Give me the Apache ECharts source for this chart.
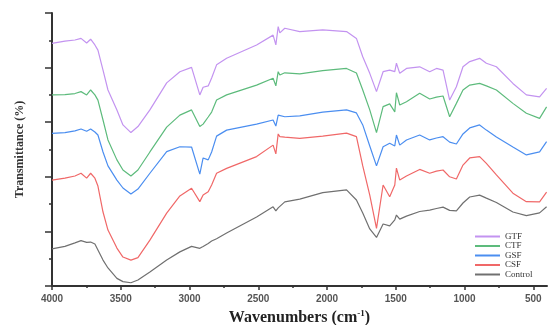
<!DOCTYPE html>
<html>
<head>
<meta charset="utf-8">
<script src="https://cdn.jsdelivr.net/npm/echarts@6/dist/echarts.min.js"></script>
<style>
  html, body { margin: 0; padding: 0; background: #fff; }
  #ftirChart { width: 548px; height: 325px; }
</style>
</head>
<body>
<div id="ftirChart"></div>
<script>
// wavenumbers (cm-1) the spectra were read at
let wavenumbers = [4000, 3906, 3833, 3789, 3748, 3719, 3688, 3666, 3629, 3593,
	3528, 3484, 3426, 3375, 3288, 3166, 3070, 2985, 2925, 2901,
	2864, 2839, 2803, 2730, 2512, 2392, 2372, 2355, 2343, 2307,
	2198, 2031, 1858, 1786, 1740, 1689, 1640, 1592, 1544, 1507,
	1495, 1471, 1422, 1326, 1253, 1204, 1156, 1108, 1059, 1011,
	962, 890, 841, 768, 648, 550, 454, 403];

let gtf = [88.9, 89.7, 90.1, 90.7, 89.0, 90.4, 88.3, 86.4, 79.1, 71.8,
	64.5, 59.0, 56.2, 58.4, 64.5, 74.4, 78.5, 80.1, 70.0, 72.8,
	73.3, 76.2, 81.0, 83.4, 88.3, 91.9, 88.3, 95.0, 92.7, 94.4,
	93.2, 93.8, 93.2, 90.7, 84.0, 77.9, 71.2, 78.5, 79.1, 78.5,
	81.6, 77.9, 79.7, 80.3, 78.5, 79.7, 79.1, 68.1, 73.0, 80.3,
	82.2, 83.4, 81.6, 80.3, 74.2, 70.0, 69.3, 72.4];

let ctf = [70.0, 70.1, 70.5, 71.2, 70.0, 71.8, 70.0, 68.1, 60.8, 53.5,
	46.2, 42.5, 40.3, 42.5, 49.1, 58.2, 62.6, 64.5, 58.4, 59.3,
	61.9, 63.7, 68.1, 70.0, 73.6, 76.1, 73.3, 78.5, 77.3, 78.1,
	77.7, 78.9, 79.7, 78.0, 71.8, 64.5, 56.2, 65.7, 66.7, 63.8,
	70.8, 66.3, 67.5, 70.6, 68.5, 69.2, 69.6, 62.0, 66.9, 71.8,
	73.6, 74.2, 73.3, 71.8, 66.9, 63.3, 61.4, 65.6];

let gsf = [55.9, 56.2, 56.8, 57.5, 56.7, 57.5, 56.4, 55.3, 49.1, 44.0,
	38.8, 35.9, 33.7, 35.5, 41.3, 49.2, 51.0, 50.9, 41.0, 46.9,
	46.2, 49.1, 54.9, 57.1, 59.3, 60.8, 58.6, 62.6, 62.3, 62.0,
	62.3, 63.7, 64.5, 63.4, 59.0, 51.3, 44.0, 51.0, 52.3, 51.3,
	55.3, 51.6, 53.5, 55.3, 53.5, 54.2, 54.7, 52.7, 52.0, 55.7,
	57.9, 59.0, 57.1, 54.6, 50.9, 48.0, 49.1, 52.9];

let csf = [38.8, 39.5, 40.3, 41.3, 39.5, 41.3, 39.5, 36.6, 27.1, 20.5,
	13.9, 10.6, 9.5, 10.4, 16.8, 26.7, 33.0, 35.8, 30.9, 33.3,
	34.5, 37.0, 41.3, 43.1, 47.4, 51.6, 48.4, 55.7, 54.7, 54.5,
	54.1, 54.9, 56.0, 54.7, 44.0, 33.3, 21.1, 37.0, 32.7, 37.0,
	43.2, 38.8, 40.3, 42.7, 41.3, 42.1, 42.5, 40.0, 39.2, 44.3,
	46.9, 47.4, 44.9, 40.7, 34.0, 30.9, 30.8, 34.4];

let control = [13.6, 14.5, 15.8, 16.6, 16.0, 16.1, 15.4, 13.2, 9.5, 6.6,
	2.8, 1.6, 1.2, 2.2, 5.1, 9.5, 12.5, 14.5, 13.8, 14.5,
	15.6, 16.5, 17.3, 19.4, 25.3, 29.0, 27.5, 28.6, 29.0, 30.8,
	31.8, 34.2, 35.2, 31.5, 26.7, 20.9, 17.8, 22.7, 22.0, 24.2,
	26.0, 24.5, 25.6, 27.3, 27.8, 28.4, 28.9, 27.7, 27.5, 30.4,
	32.6, 33.3, 32.2, 30.6, 27.1, 25.8, 26.8, 29.0];

let majorTicks = [4000, 3500, 3000, 2500, 2000, 1500, 1000, 500];
let minorTicks = [3750, 3250, 2750, 2250, 1750, 1250, 750];

let names = ['GTF', 'CTF', 'GSF', 'CSF', 'Control'];
let colors = ['#c393f0', '#5dbb7c', '#4b8ef0', '#f06868', '#707070'];

let ftirChart = echarts.init(document.getElementById('ftirChart'));

var pairs = function(values){
	return wavenumbers.map(function(w, i){ return [w, values[i]]; });
};

let seriesValues = [gtf, ctf, gsf, csf, control];

let ftirOption = {
	backgroundColor: '#fff',
	animation: false,
	grid: { left: 52, right: 1, top: 13, bottom: 39, outerBoundsMode: 'none' },
	legend: {
		orient: 'vertical',
		left: 469,
		top: 227,
		itemWidth: 25,
		itemHeight: 8,
		itemGap: 0.5,
		data: names,
		itemStyle: { opacity: 0 },
		textStyle: { fontFamily: 'Liberation Serif', fontSize: 9, color: '#333' }
	},
	xAxis: [
		{
			type: 'value',
			inverse: true,
			min: 400,
			max: 4000,
			splitLine: { show: false },
			axisLine: { lineStyle: { color: '#333', width: 2 } },
			axisTick: { customValues: majorTicks, length: 4, lineStyle: { color: '#333', width: 1.5 } },
			axisLabel: {
				customValues: majorTicks,
				margin: 8,
				fontFamily: 'Liberation Sans',
				fontSize: 10,
				fontWeight: 'bold',
				color: '#555',
				formatter: function(v){ return String(v); }
			},
			name: '{t|Wavenumbers (cm}{s|-1}{t|)}',
			nameLocation: 'middle',
			nameMoveOverlap: false,
			nameGap: 23,
			nameTextStyle: {
				rich: {
					t: { fontFamily: 'Liberation Serif', fontSize: 16, fontWeight: 'bold', color: '#222' },
					s: { fontFamily: 'Liberation Serif', fontSize: 9, fontWeight: 'bold', color: '#222', padding: [0, 0, 8, 0] }
				}
			}
		},
		{
			type: 'value',
			inverse: true,
			min: 400,
			max: 4000,
			position: 'bottom',
			splitLine: { show: false },
			axisLine: { show: false },
			axisTick: { customValues: minorTicks, length: 2, lineStyle: { color: '#333', width: 1.5 } },
			axisLabel: { show: false }
		}
	],
	yAxis: {
		type: 'value',
		min: 0,
		max: 100,
		interval: 20,
		splitLine: { show: false },
		axisLine: { show: true, lineStyle: { color: '#333', width: 2 } },
		axisTick: { show: true, length: 7, lineStyle: { color: '#333', width: 1.5 } },
		minorTick: { show: true, splitNumber: 2, length: 3, lineStyle: { color: '#333', width: 1.5 } },
		axisLabel: { show: false },
		name: 'Transmittance (%)',
		nameLocation: 'middle',
		nameMoveOverlap: false,
		nameGap: 26,
		nameTextStyle: { fontFamily: 'Liberation Serif', fontSize: 12, fontWeight: 'bold', color: '#333' }
	},
	series: names.map(function(name, i){
		return {
			name: name,
			type: 'line',
			symbol: 'none',
			color: colors[i],
			lineStyle: { width: 1.2, color: colors[i] },
			data: pairs(seriesValues[i])
		};
	})
};

ftirChart.setOption(ftirOption);
</script>
</body>
</html>
